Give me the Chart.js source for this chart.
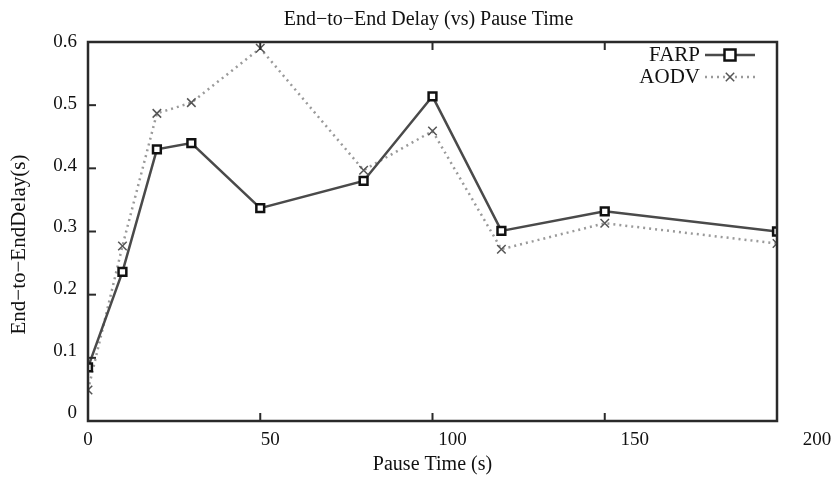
<!DOCTYPE html>
<html>
<head>
<meta charset="utf-8">
<script src="https://cdn.jsdelivr.net/npm/chart.js@4.4.1/dist/chart.umd.min.js"></script>
<style>
  html, body { margin: 0; padding: 0; background: #fff; }
  #wrap { width: 837px; height: 481px; }
</style>
</head>
<body>
<div id="wrap"><canvas id="delay" width="837" height="481"></canvas></div>
<script>
// pause time (s)
const pauseTimes = [0, 10, 20, 30, 50, 80, 100, 120, 150, 200];
// end-to-end delay (s)
const farpDelay = [0.085, 0.236, 0.43, 0.44, 0.337, 0.38, 0.514, 0.301, 0.332, 0.30];
const aodvDelay = [0.049, 0.277, 0.487, 0.504, 0.59, 0.397, 0.459, 0.272, 0.313, 0.281];
const seriesNames = ["FARP", "AODV"];
const xTicks = [0, 50, 100, 150, 200];
const yTicks = [0, 0.1, 0.2, 0.3, 0.4, 0.5, 0.6];

const serif = "'Liberation Serif', 'DejaVu Serif', serif";
const ink = "#111";

function toPoints(values) {
    return pauseTimes.map((t, i) => ({ x: t, y: values[i] }));
}

// frame + inward ticks, like the old gnuplot look
const framePlugin = {
    id: "frame",
    afterDraw(chart) {
        const { ctx, chartArea: a, scales } = chart;
        ctx.save();
        ctx.strokeStyle = "#2a2a2a";
        ctx.lineWidth = 2.5;
        ctx.strokeRect(a.left, a.top, a.right - a.left, a.bottom - a.top);
        ctx.lineWidth = 2;
        xTicks.slice(1, -1).forEach(v => {
            const px = scales.x.getPixelForValue(v);
            ctx.beginPath();
            ctx.moveTo(px, a.bottom); ctx.lineTo(px, a.bottom - 8);
            ctx.moveTo(px, a.top); ctx.lineTo(px, a.top + 8);
            ctx.stroke();
        });
        yTicks.slice(1, -1).forEach(v => {
            const py = scales.y.getPixelForValue(v);
            ctx.beginPath();
            ctx.moveTo(a.left, py); ctx.lineTo(a.left + 8, py);
            ctx.stroke();
        });

        // tick labels sit a little off the ticks in the original, spread wider
        ctx.fillStyle = ink;
        ctx.font = "19px " + serif;
        ctx.textBaseline = "middle";
        ctx.textAlign = "center";
        xTicks.forEach(v => {
            ctx.fillText(String(v), scales.x.getPixelForValue(v * 1.058), a.bottom + 19);
        });
        ctx.textAlign = "right";
        yTicks.forEach(v => {
            const py = scales.y.getPixelForValue(v) - (0.6 - v) * 14;
            ctx.fillText(v === 0 ? "0" : v.toFixed(1), a.left - 11, py);
        });

        // y axis title
        ctx.font = "21px " + serif;
        ctx.textAlign = "center";
        ctx.translate(19, (a.top + a.bottom) / 2 + 13);
        ctx.rotate(-Math.PI / 2);
        ctx.fillText("End\u2212to\u2212EndDelay(s)", 0, 0);
        ctx.restore();
    }
};

// legend inside top right: label then line sample with marker
const legendPlugin = {
    id: "insideLegend",
    afterDraw(chart) {
        const { ctx, chartArea: a } = chart;
        ctx.save();
        ctx.font = "21px " + serif;
        ctx.textAlign = "right";
        ctx.textBaseline = "middle";
        chart.data.datasets.forEach((ds, i) => {
            const y = a.top + 13 + i * 22;
            const x0 = a.right - 72;
            const x1 = a.right - 22;
            const cx = (x0 + x1) / 2;
            ctx.fillStyle = ink;
            ctx.fillText(ds.label, x0 - 5, y);
            ctx.strokeStyle = ds.borderColor;
            ctx.lineWidth = ds.borderWidth;
            ctx.setLineDash(ds.borderDash || []);
            ctx.beginPath();
            ctx.moveTo(x0, y); ctx.lineTo(x1, y);
            ctx.stroke();
            ctx.setLineDash([]);
            ctx.fillStyle = ds.pointBackgroundColor;
            ctx.strokeStyle = ds.pointBorderColor;
            ctx.lineWidth = ds.pointBorderWidth;
            ctx.beginPath();
            if (ds.pointStyle === "rect") {
                const r = ds.pointRadius;
                ctx.rect(cx - r, y - r, 2 * r, 2 * r);
                ctx.fill();
            } else {
                const r = ds.pointRadius * 0.7;
                ctx.moveTo(cx - r, y - r); ctx.lineTo(cx + r, y + r);
                ctx.moveTo(cx - r, y + r); ctx.lineTo(cx + r, y - r);
            }
            ctx.stroke();
        });
        ctx.restore();
    }
};

const ctx = document.getElementById("delay").getContext("2d");
const delayChart = new Chart(ctx, {
    type: "line",
    data: {
        datasets: [
            {
                label: seriesNames[0],
                data: toPoints(farpDelay),
                borderColor: "#4a4a4a",
                borderWidth: 2.5,
                pointStyle: "rect",
                pointRadius: 5.5,
                pointBackgroundColor: "#fff",
                pointBorderColor: "#111",
                pointBorderWidth: 2.5,
                tension: 0
            },
            {
                label: seriesNames[1],
                data: toPoints(aodvDelay),
                borderColor: "#9a9a9a",
                borderWidth: 2.5,
                borderDash: [2, 4],
                pointStyle: "crossRot",
                pointRadius: 6,
                pointBackgroundColor: "#fff",
                pointBorderColor: "#555",
                pointBorderWidth: 1.5,
                tension: 0
            }
        ]
    },
    options: {
        responsive: false,
        animation: false,
        // left padding keeps the title centred over the plot; y axis box itself is thin
        layout: { padding: { left: 80, right: 60, top: 0, bottom: 0 } },
        plugins: {
            legend: { display: false },
            tooltip: { enabled: false },
            title: {
                display: true,
                text: "End\u2212to\u2212End Delay (vs) Pause Time",
                color: ink,
                font: { family: serif, size: 20, weight: "normal" },
                padding: { top: 8, bottom: 10 }
            }
        },
        scales: {
            x: {
                type: "linear",
                min: 0,
                max: 200,
                afterBuildTicks: s => { s.ticks = xTicks.map(v => ({ value: v })); },
                grid: { display: false },
                border: { display: false },
                ticks: { display: false },
                title: {
                    display: true,
                    text: "Pause Time (s)",
                    color: ink,
                    font: { family: serif, size: 20 },
                    padding: { top: 4, bottom: 4 }
                },
                afterFit: s => { s.height = 60; }
            },
            y: {
                min: 0,
                max: 0.6,
                afterBuildTicks: s => { s.ticks = yTicks.map(v => ({ value: v })); },
                grid: { display: false },
                border: { display: false },
                ticks: { display: false },
                afterFit: s => { s.width = 8; }
            }
        }
    },
    plugins: [framePlugin, legendPlugin]
});
</script>
</body>
</html>
